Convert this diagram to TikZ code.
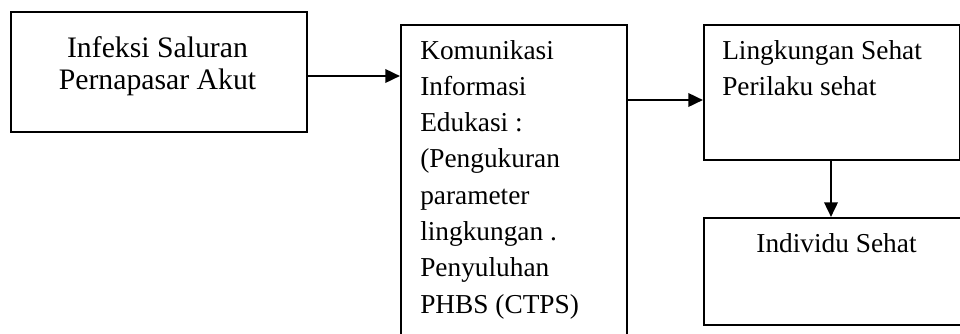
\documentclass[tikz,border=0pt]{standalone}
\usepackage{fontspec}
\setmainfont{Liberation Serif}
\usetikzlibrary{arrows.meta}
\tikzset{
  box/.style={draw, line width=1.3pt, inner sep=0pt, anchor=north west},
  txt/.style={inner sep=0pt, font=\fontsize{20.5}{27.2}\selectfont},
  bigtxt/.style={inner sep=0pt, font=\fontsize{22.3}{27.2}\selectfont},
  conn/.style={line width=1.9pt, -{Triangle[length=11pt,width=10pt]}}
}
\begin{document}
\begin{tikzpicture}[x=0.75pt,y=-0.75pt]
\useasboundingbox (0,0) rectangle (960,333);
% boxes
\node[box, minimum width=296*0.75pt, minimum height=120*0.75pt] (b1) at (10,11) {};
\node[box, minimum width=226*0.75pt, minimum height=330*0.75pt] (b2) at (400,24) {};
\node[box, minimum width=256*0.75pt, minimum height=135*0.75pt] (b3) at (703,24) {};
\node[box, minimum width=260*0.75pt, minimum height=107*0.75pt] (b4) at (703,217) {};
% texts
\node[bigtxt, anchor=base] (t1a) at (157.5,57) {Infeksi Saluran};
\node[bigtxt, anchor=base] (t1b) at (157.5,89) {Pernapasar Akut};
\node[txt, anchor=base west] (t2) at (420,59) {Komunikasi};
\node[txt, anchor=base west] (t2b) at (420,95.3) {Informasi};
\node[txt, anchor=base west] (t2c) at (420,131.6) {Edukasi :};
\node[txt, anchor=base west] (t2d) at (420,167.9) {(Pengukuran};
\node[txt, anchor=base west] (t2e) at (420,204.2) {parameter};
\node[txt, anchor=base west] (t2f) at (420,240.5) {lingkungan .};
\node[txt, anchor=base west] (t2g) at (420,276.8) {Penyuluhan};
\node[txt, anchor=base west] (t2h) at (420,313.1) {PHBS (CTPS)};
\node[txt, anchor=base west] (t3a) at (722,59) {Lingkungan Sehat};
\node[txt, anchor=base west] (t3b) at (722,95.3) {Perilaku sehat};
\node[txt, anchor=base] (t4) at (836.5,252) {Individu Sehat};
% connectors
\coordinate (a1) at (b1.east |- 0,76);
\coordinate (a2) at (b2.west |- 0,76);
\draw[conn] (a1) -- (a2);
\coordinate (c1) at (b2.east |- 0,100);
\coordinate (c2) at (b3.west |- 0,100);
\draw[conn] (c1) -- (c2);
\coordinate (d1) at (831,0 |- b3.south);
\coordinate (d2) at (831,0 |- b4.north);
\draw[conn] (d1) -- (d2);
\end{tikzpicture}
\end{document}
